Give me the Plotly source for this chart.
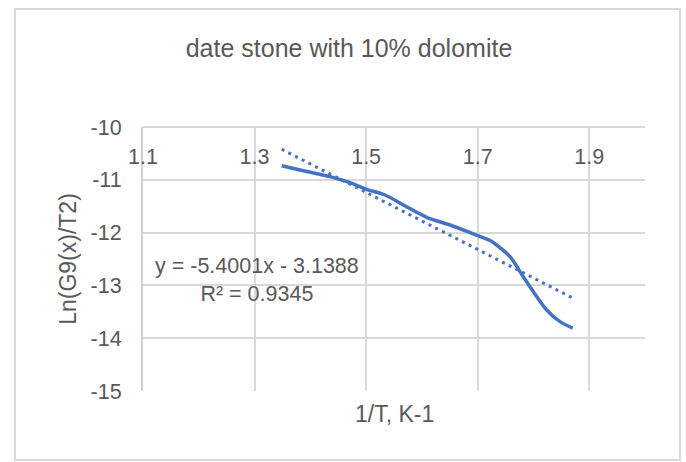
import plotly.graph_objects as go

# ---- data ----
inv_T = [1.3487, 1.3875, 1.4353, 1.4711, 1.5010, 1.5339, 1.5668, 1.6086,
         1.6504, 1.6863, 1.7222, 1.7340, 1.7580, 1.7818, 1.7998, 1.8237,
         1.8476, 1.8704]
ln_g = [-10.733, -10.828, -10.940, -11.055, -11.180, -11.288, -11.477, -11.710,
        -11.856, -12.000, -12.150, -12.235, -12.456, -12.835, -13.119, -13.466,
        -13.687, -13.810]

trend_x = [1.3487, 1.8704]
trend_y = [-10.422, -13.239]

x_tickvals = [1.1, 1.3, 1.5, 1.7, 1.9]
x_ticktext = ["1.1", "1.3", "1.5", "1.7", "1.9"]
y_tickvals = [-15, -14, -13, -12, -11, -10]
y_ticktext = ["-15", "-14", "-13", "-12", "-11", "-10"]

title_text = "date stone with 10% dolomite"
x_title = "1/T, K-1"
y_title = "Ln(G9(x)/T2)"
eq_text = "y = -5.4001x - 3.1388<br>R² = 0.9345"

FONT = "Liberation Sans, Arial, sans-serif"
TXT = "#595959"
GRID = "#d9d9d9"
BLUE = "#4472C4"

W, H = 686, 462
L, R, T, B = 143, 41, 127, 71
PW, PH = W - L - R, H - T - B


def px2paper_x(px):
    return (px - L) / PW


def px2paper_y(py):
    return (H - B - py) / PH


fig = go.Figure()
fig.add_trace(go.Scatter(x=inv_T, y=ln_g, mode="lines",
                         line=dict(color=BLUE, width=3.5, shape="spline", smoothing=0.8),
                         hoverinfo="skip"))
fig.add_trace(go.Scatter(x=trend_x, y=trend_y, mode="lines",
                         line=dict(color=BLUE, width=3, dash="3px,4.5px"),
                         hoverinfo="skip"))

fig.update_layout(
    width=W, height=H, autosize=False,
    margin=dict(l=L, r=R, t=T, b=B, pad=0),
    paper_bgcolor="white", plot_bgcolor="white",
    showlegend=False,
    font=dict(family=FONT, color=TXT),
    title=dict(text=title_text, x=349 / W, xanchor="center",
               y=1 - 48 / H, yanchor="middle", yref="container",
               font=dict(size=25, color=TXT, family=FONT)),
    xaxis=dict(range=[1.1, 2.0], tickmode="array", tickvals=x_tickvals,
               ticktext=x_ticktext, anchor="free", position=1, side="bottom",
               ticks="", ticklabelstandoff=10, automargin=False,
               showgrid=True, gridcolor=GRID, gridwidth=2,
               showline=True, linecolor=GRID, linewidth=2,
               zeroline=False, tickfont=dict(size=21.5, color=TXT, family=FONT)),
    yaxis=dict(range=[-15, -10], tickmode="array", tickvals=y_tickvals,
               ticktext=y_ticktext, ticks="", ticklabelstandoff=15,
               automargin=False,
               showgrid=True, gridcolor=GRID, gridwidth=2,
               showline=True, linecolor="#cfcfcf", linewidth=2,
               zeroline=False, tickfont=dict(size=21.5, color=TXT, family=FONT),
               title=dict(text=y_title, standoff=8,
                          font=dict(size=23, color=TXT, family=FONT))),
)

fig.add_annotation(text=eq_text, xref="paper", yref="paper",
                   x=px2paper_x(257), y=px2paper_y(280),
                   xanchor="center", yanchor="middle", align="center",
                   showarrow=False, font=dict(size=21.5, color=TXT, family=FONT))
fig.add_annotation(text=x_title, xref="paper", yref="paper",
                   x=0.5, y=px2paper_y(413.5), xanchor="center", yanchor="middle",
                   showarrow=False, font=dict(size=23, color=TXT, family=FONT))

fig.add_shape(type="rect", xref="paper", yref="paper",
              x0=px2paper_x(15), x1=px2paper_x(680),
              y0=px2paper_y(460), y1=px2paper_y(9),
              line=dict(color=GRID, width=2), layer="below")

fig.write_html("out.html")
